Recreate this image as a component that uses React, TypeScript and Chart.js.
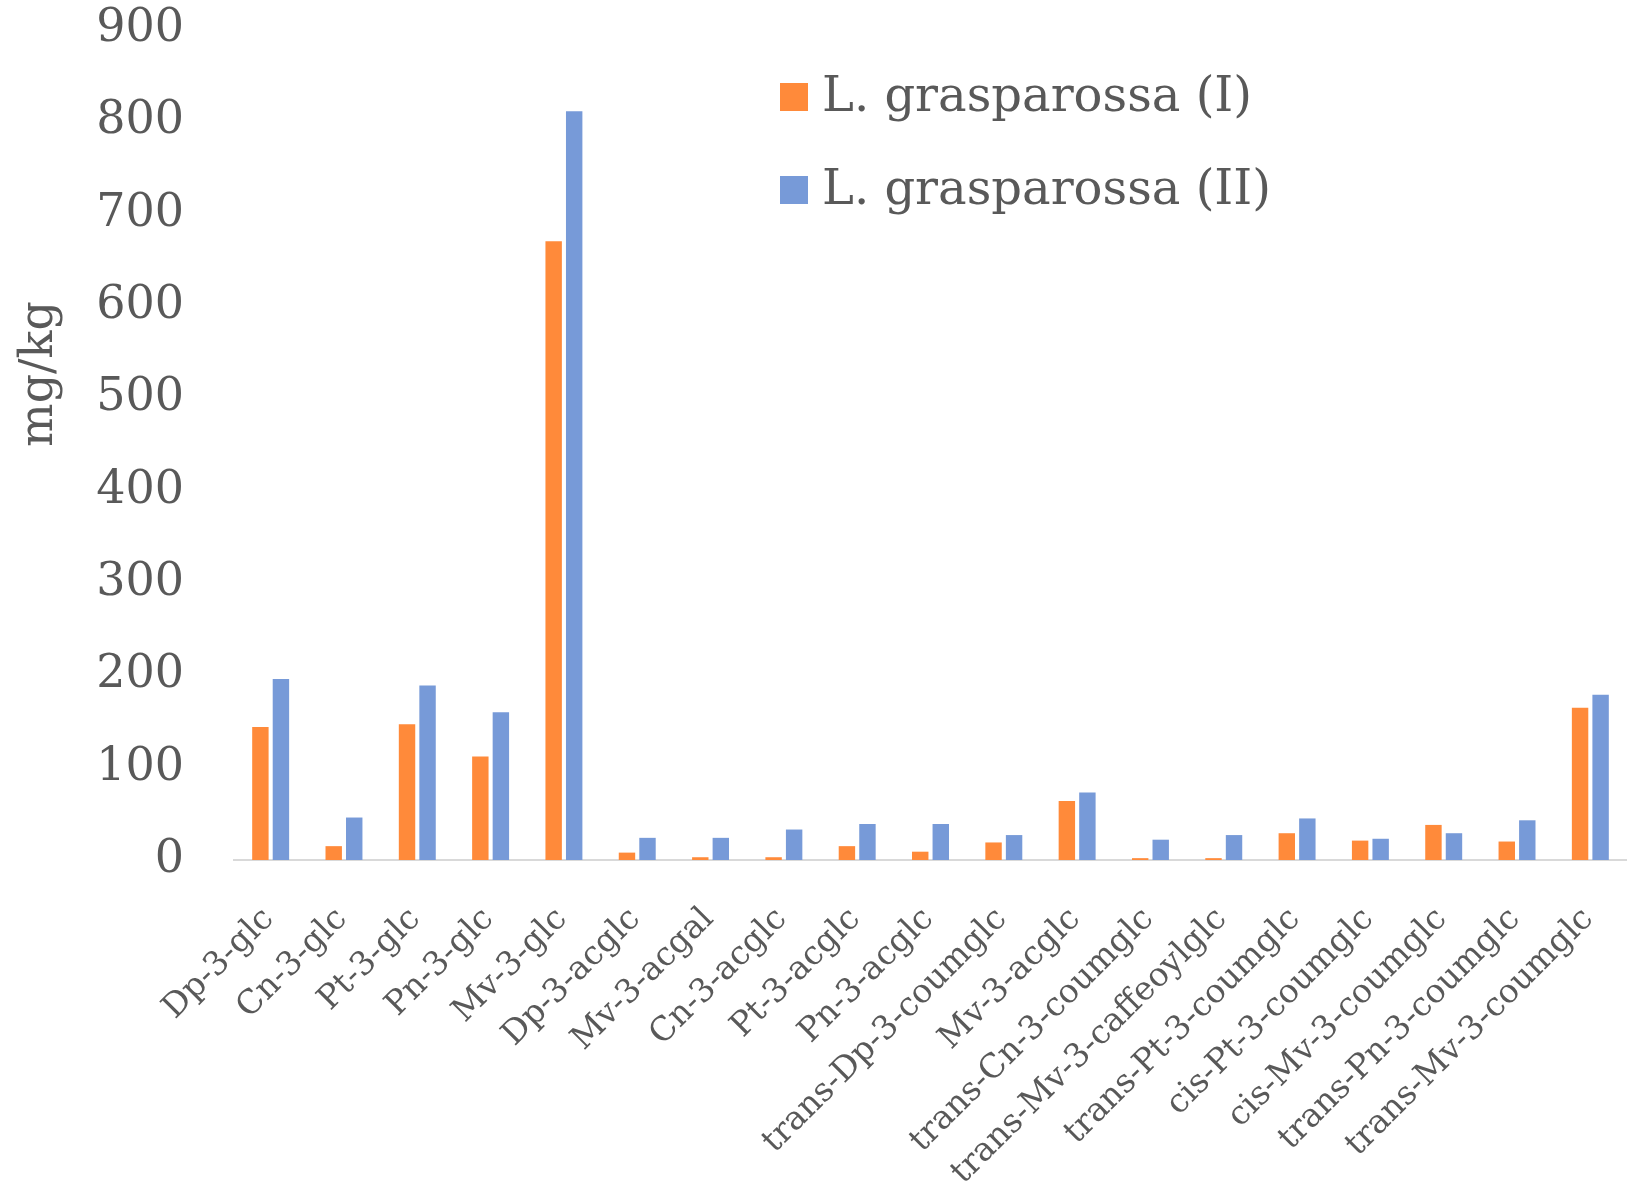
import React, { useEffect, useRef } from "react";
import { Chart, registerables } from "chart.js";

Chart.register(...registerables);

const categories = [
  "Dp-3-glc",
  "Cn-3-glc",
  "Pt-3-glc",
  "Pn-3-glc",
  "Mv-3-glc",
  "Dp-3-acglc",
  "Mv-3-acgal",
  "Cn-3-acglc",
  "Pt-3-acglc",
  "Pn-3-acglc",
  "trans-Dp-3-coumglc",
  "Mv-3-acglc",
  "trans-Cn-3-coumglc",
  "trans-Mv-3-caffeoylglc",
  "trans-Pt-3-coumglc",
  "cis-Pt-3-coumglc",
  "cis-Mv-3-coumglc",
  "trans-Pn-3-coumglc",
  "trans-Mv-3-coumglc",
];

const seriesNames = ["L. grasparossa (I)", "L. grasparossa (II)"];

const valuesI = [144, 15, 147, 112, 670, 8, 3, 3, 15, 9, 19, 64, 2, 2, 29, 21, 38, 20, 165];
const valuesII = [196, 46, 189, 160, 811, 24, 24, 33, 39, 39, 27, 73, 22, 27, 45, 23, 29, 43, 179];

const yTicks = [0, 100, 200, 300, 400, 500, 600, 700, 800, 900];

const COLORS = ["#FF8A3A", "#779AD8"];
const TEXT = "#595959";
const FONT = "'DejaVu Serif', serif";

const sideLegend = {
  id: "sideLegend",
  afterDraw(chart: any) {
    const { ctx } = chart;
    ctx.save();
    ctx.font = `48px ${FONT}`;
    ctx.textBaseline = "middle";
    ctx.textAlign = "left";
    chart.data.datasets.forEach((ds: any, i: number) => {
      const cy = 97 + i * 93;
      ctx.fillStyle = ds.backgroundColor;
      ctx.fillRect(780, cy - 14, 28, 28);
      ctx.fillStyle = TEXT;
      ctx.fillText(ds.label, 822, cy + 2);
    });
    ctx.restore();
  },
};

const axisTitle = {
  id: "axisTitle",
  afterDraw(chart: any) {
    const { ctx } = chart;
    ctx.save();
    ctx.font = `46px ${FONT}`;
    ctx.fillStyle = TEXT;
    ctx.textAlign = "center";
    ctx.textBaseline = "middle";
    ctx.translate(40, 374);
    ctx.rotate(-Math.PI / 2);
    ctx.fillText("mg/kg", 0, 0);
    ctx.restore();
  },
};

export default function App() {
  const canvasRef = useRef<HTMLCanvasElement | null>(null);

  useEffect(() => {
    if (!canvasRef.current) return;
    const chart = new Chart(canvasRef.current, {
      type: "bar",
      data: {
        labels: categories,
        datasets: [
          { label: seriesNames[0], data: valuesI, backgroundColor: COLORS[0] },
          { label: seriesNames[1], data: valuesII, backgroundColor: COLORS[1] },
        ],
      },
      options: {
        animation: false,
        responsive: false,
        maintainAspectRatio: false,
        datasets: {
          bar: { categoryPercentage: 0.56, barPercentage: 0.8 },
        },
        layout: { padding: { top: 29, right: 0, bottom: 0, left: 0 } },
        plugins: {
          legend: { display: false },
          tooltip: { enabled: false },
        },
        scales: {
          x: {
            grid: { display: false, drawTicks: false },
            border: { display: true, color: "#D9D9D9", width: 2 },
            ticks: {
              color: TEXT,
              font: { family: FONT, size: 33 },
              minRotation: 45,
              maxRotation: 45,
              autoSkip: false,
              padding: 40,
              labelOffset: -2,
            },
            afterFit(scale: any) {
              scale.height = 322;
              scale.paddingLeft = 0;
              scale.paddingRight = 0;
            },
          },
          y: {
            min: 0,
            max: 900,
            afterBuildTicks(scale: any) {
              scale.ticks = yTicks.map((v) => ({ value: v }));
            },
            grid: { display: false, drawTicks: false },
            border: { display: false },
            ticks: {
              color: TEXT,
              font: { family: FONT, size: 46 },
              padding: 50,
            },
            afterFit(scale: any) {
              scale.width = 234;
              scale.paddingTop = 0;
              scale.paddingBottom = 0;
            },
          },
        },
      },
      plugins: [sideLegend, axisTitle],
    });
    return () => chart.destroy();
  }, []);

  return (
    <div style={{ position: "fixed", left: 0, top: 0, width: 1627, height: 1182, background: "#fff" }}>
      <canvas ref={canvasRef} width={1627} height={1182} style={{ display: "block" }} />
    </div>
  );
}
